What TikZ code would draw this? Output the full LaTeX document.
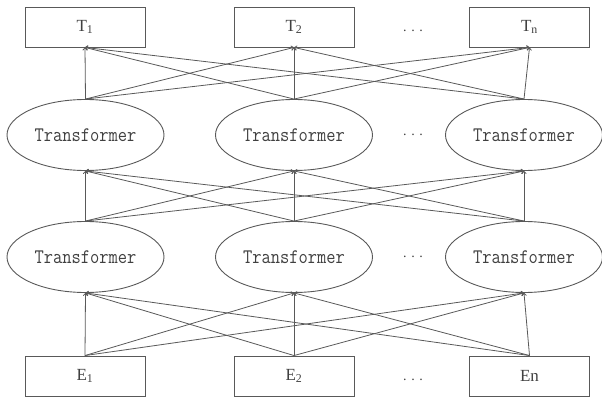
\documentclass[tikz,border=0pt]{standalone}
\usepackage{fontspec}
\setmainfont{Liberation Serif}
\usetikzlibrary{shapes.geometric,arrows.meta}
\begin{document}
\begin{tikzpicture}[x=1pt,y=-1pt,
  box/.style={draw=black!65,line width=0.9pt,minimum width=120pt,minimum height=40pt,inner sep=0pt,text=black!75,font=\fontsize{17}{20}\selectfont},
  tf/.style={draw=black!65,line width=0.9pt,ellipse,minimum width=157pt,minimum height=71pt,inner sep=0pt,text=black!75,font=\ttfamily\fontsize{18}{20}\selectfont},
  link/.style={draw=black!65,line width=0.8pt,-{To[length=3pt,width=5pt]}},
  dots/.style={font=\fontsize{14}{16}\selectfont,text=black!75}]
\newcommand{\tall}[1]{\scalebox{1}[1.15]{#1}}
\useasboundingbox (0,0) rectangle (602,398);

% output tokens
\node[box] (t1) at (85,27) {T\textsubscript{1}};
\node[box] (t2) at (294,27) {T\textsubscript{2}};
\node[box] (tn) at (529.5,27) {T\textsubscript{n}};

% upper transformer layer
\node[tf] (u1) at (85.5,135) {\tall{Transformer}};
\node[tf] (u2) at (294,135) {\tall{Transformer}};
\node[tf] (u3) at (524,135) {\tall{Transformer}};

% lower transformer layer
\node[tf] (l1) at (85.5,257) {\tall{Transformer}};
\node[tf] (l2) at (294,257) {\tall{Transformer}};
\node[tf] (l3) at (524,257) {\tall{Transformer}};

% input embeddings
\node[box] (e1) at (85,376) {E\textsubscript{1}};
\node[box] (e2) at (294,376) {E\textsubscript{2}};
\node[box] (en) at (529.5,376) {En};

% ellipsis in each row
\node[dots] (d1) at (413,31) {. . .};
\node[dots] (d2) at (413,135) {. . .};
\node[dots] (d3) at (413,257) {. . .};
\node[dots] (d4) at (413,380) {. . .};

% full connections between consecutive layers
\foreach \a in {e1,e2,en}
  \foreach \b in {l1,l2,l3}
    \draw[link] (\a.north) -- (\b.south);
\foreach \a in {l1,l2,l3}
  \foreach \b in {u1,u2,u3}
    \draw[link] (\a.north) -- (\b.south);
\foreach \a in {u1,u2,u3}
  \foreach \b in {t1,t2,tn}
    \draw[link] (\a.north) -- (\b.south);
\end{tikzpicture}
\end{document}
